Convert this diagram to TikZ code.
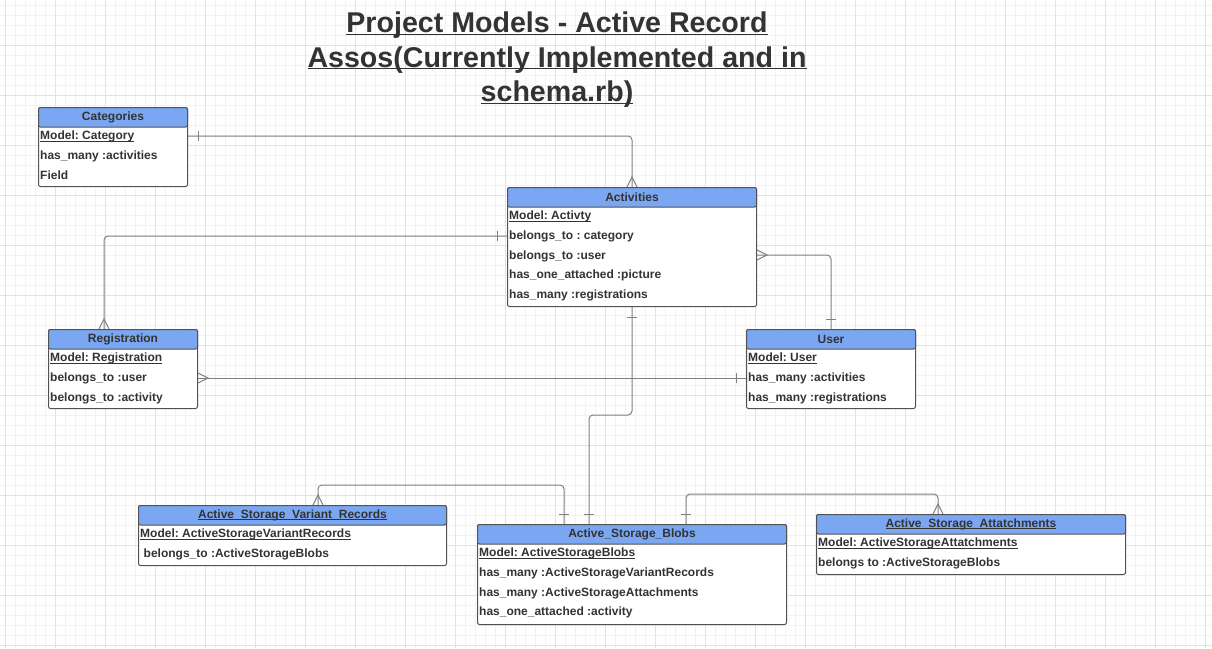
\documentclass[tikz,border=0pt]{standalone}
\usepackage{fontspec}
\setmainfont{Liberation Sans}
\usetikzlibrary{positioning,calc}
\frenchspacing

\definecolor{hdrblue}{RGB}{123,167,242}
\definecolor{boxline}{RGB}{82,82,82}
\definecolor{connline}{RGB}{128,128,128}
\definecolor{txt}{RGB}{51,51,51}
\definecolor{gridminor}{RGB}{242,242,242}
\definecolor{gridmajor}{RGB}{226,226,226}

\newcommand{\ul}[1]{\underline{\smash{#1}}}

\tikzset{
  ent/.style={draw=boxline, line width=1, rounded corners=2, fill=white, anchor=north west, inner sep=0},
  hdr/.style={draw=boxline, line width=1, rounded corners=2, fill=hdrblue, anchor=north, minimum height=19.5, inner sep=0, text=txt, font=\fontsize{12}{14}\selectfont\bfseries},
  rows/.style={align=left, inner xsep=2, inner ysep=0, text=txt, font=\fontsize{12}{19.8}\selectfont\bfseries},
  conn/.style={draw=connline, line width=1},
  crowup/.pic={\draw[conn] (-5,0) -- (0,-10) -- (5,0);},
  crowright/.pic={\draw[conn] (0,-5) -- (10,0) -- (0,5);},
  barup/.pic={\draw[conn] (-5,-10) -- (5,-10);},
  bardown/.pic={\draw[conn] (-5,10) -- (5,10);},
  barleft/.pic={\draw[conn] (-10,-5) -- (-10,5);},
  barright/.pic={\draw[conn] (10,-5) -- (10,5);},
}

\begin{document}
\begin{tikzpicture}[x=1pt,y=-1pt]
%Background and grid
\fill[white] (0,0) rectangle (1212,648);
\useasboundingbox (0,0) rectangle (1212,648);
\draw[gridminor, line width=0.8, shift={(5,5)}] (-5,-5) grid[step=10pt] (1207,643);
\draw[gridmajor, line width=0.8, shift={(5,45)}] (-5,-45) grid[step=50pt] (1207,603);

% Title
\node[text=txt, align=center, font=\fontsize{28.6}{34.5}\selectfont\bfseries] (title) at (557,68)
  {\ul{Project Models - Active Record}\\\ul{Assos(Currently Implemented and in}\\\ul{schema.rb)}};

%Shape: Categories
\node[ent, minimum width=149, minimum height=79] (cat) at (38,107) {};
\node[hdr, minimum width=149] (cathead) at (cat.north) {Categories};
\node[rows, below right=-2pt and 0pt of cathead.south west] (catrows)
  {\strut\ul{Model: Category}\\has\_many :activities\\Field};

%Shape: Activities
\node[ent, minimum width=249, minimum height=119] (act) at (507,187) {};
\node[hdr, minimum width=249] (acthead) at (act.north) {Activities};
\node[rows, below right=-2pt and 0pt of acthead.south west] (actrows)
  {\strut\ul{Model: Activty}\\belongs\_to : category\\belongs\_to :user\\has\_one\_attached :picture\\has\_many :registrations};

%Shape: Registration
\node[ent, minimum width=149, minimum height=79] (reg) at (48,329) {};
\node[hdr, minimum width=149] (reghead) at (reg.north) {Registration};
\node[rows, below right=-2pt and 0pt of reghead.south west] (regrows)
  {\strut\ul{Model: Registration}\\belongs\_to :user\\belongs\_to :activity};

%Shape: User
\node[ent, minimum width=169, minimum height=79] (usr) at (746,329) {};
\node[hdr, minimum width=169] (usrhead) at (usr.north) {User};
\node[rows, below right=-2pt and 0pt of usrhead.south west] (usrrows)
  {\strut\ul{Model: User}\\has\_many :activities\\has\_many :registrations};

%Shape: Active_Storage_Variant_Records
\node[ent, minimum width=308, minimum height=60] (var) at (138,505) {};
\node[hdr, minimum width=308] (varhead) at (var.north) {\ul{Active\_Storage\_Variant\_Records}\vphantom{Ag}};
\node[rows, below right=-2pt and 0pt of varhead.south west] (varrows)
  {\strut\ul{Model: ActiveStorageVariantRecords}\\\hspace{3.5pt}belongs\_to :ActiveStorageBlobs};

%Shape: Active_Storage_Blobs
\node[ent, minimum width=309, minimum height=100] (blob) at (477,524) {};
\node[hdr, minimum width=309] (blobhead) at (blob.north) {Active\_Storage\_Blobs};
\node[rows, below right=-2pt and 0pt of blobhead.south west] (blobrows)
  {\strut\ul{Model: ActiveStorageBlobs}\\has\_many :ActiveStorageVariantRecords\\has\_many :ActiveStorageAttachments\\has\_one\_attached :activity};

%Shape: Active_Storage_Attatchments
\node[ent, minimum width=309, minimum height=60] (att) at (816,514) {};
\node[hdr, minimum width=309] (atthead) at (att.north) {\ul{Active\_Storage\_Attatchments}\vphantom{Ag}};
\node[rows, below right=-2pt and 0pt of atthead.south west] (attrows)
  {\strut\ul{Model: ActiveStorageAttatchments}\\belongs to :ActiveStorageBlobs};

% Connector end points
\coordinate (catout) at ($(cat.north east)+(0,29)$);
\coordinate (actleft) at ($(act.north west)+(0,49)$);
\coordinate (actright) at ($(act.north east)+(0,68)$);
\coordinate (regtop) at ($(reg.north west)+(56,0)$);
\coordinate (regright) at ($(reg.north east)+(0,49)$);
\coordinate (vartop) at ($(var.north west)+(180,0)$);
\coordinate (attop) at ($(att.north west)+(122,0)$);
\coordinate (blobvar) at ($(blob.north west)+(87,0)$);
\coordinate (blobact) at ($(blob.north west)+(112,0)$);
\coordinate (blobatt) at ($(blob.north west)+(209,0)$);

%Straight Lines
\draw[conn, rounded corners=4] (catout) -| (act.north);
\draw[conn, rounded corners=4] (actleft) -| (regtop);
\draw[conn, rounded corners=4] (actright) -| (usr.north);
\draw[conn] (regright) -- (regright -| usr.west);
\draw[conn, rounded corners=4] (act.south) -- ++(0,108) -| (blobact);
\draw[conn, rounded corners=4] (vartop) -- ++(0,-20) -| (blobvar);
\draw[conn, rounded corners=4] (blobatt) -- ++(0,-30) -| (attop);

% End marks
\pic at (catout) {barright};
\pic at (act.north) {crowup};
\pic at (actleft) {barleft};
\pic at (regtop) {crowup};
\pic at (actright) {crowright};
\pic at (usr.north) {barup};
\pic at (regright) {crowright};
\pic at (regright -| usr.west) {barleft};
\pic at (act.south) {bardown};
\pic at (blobact) {barup};
\pic at (vartop) {crowup};
\pic at (blobvar) {barup};
\pic at (blobatt) {barup};
\pic at (attop) {crowup};

\end{tikzpicture}
\end{document}
